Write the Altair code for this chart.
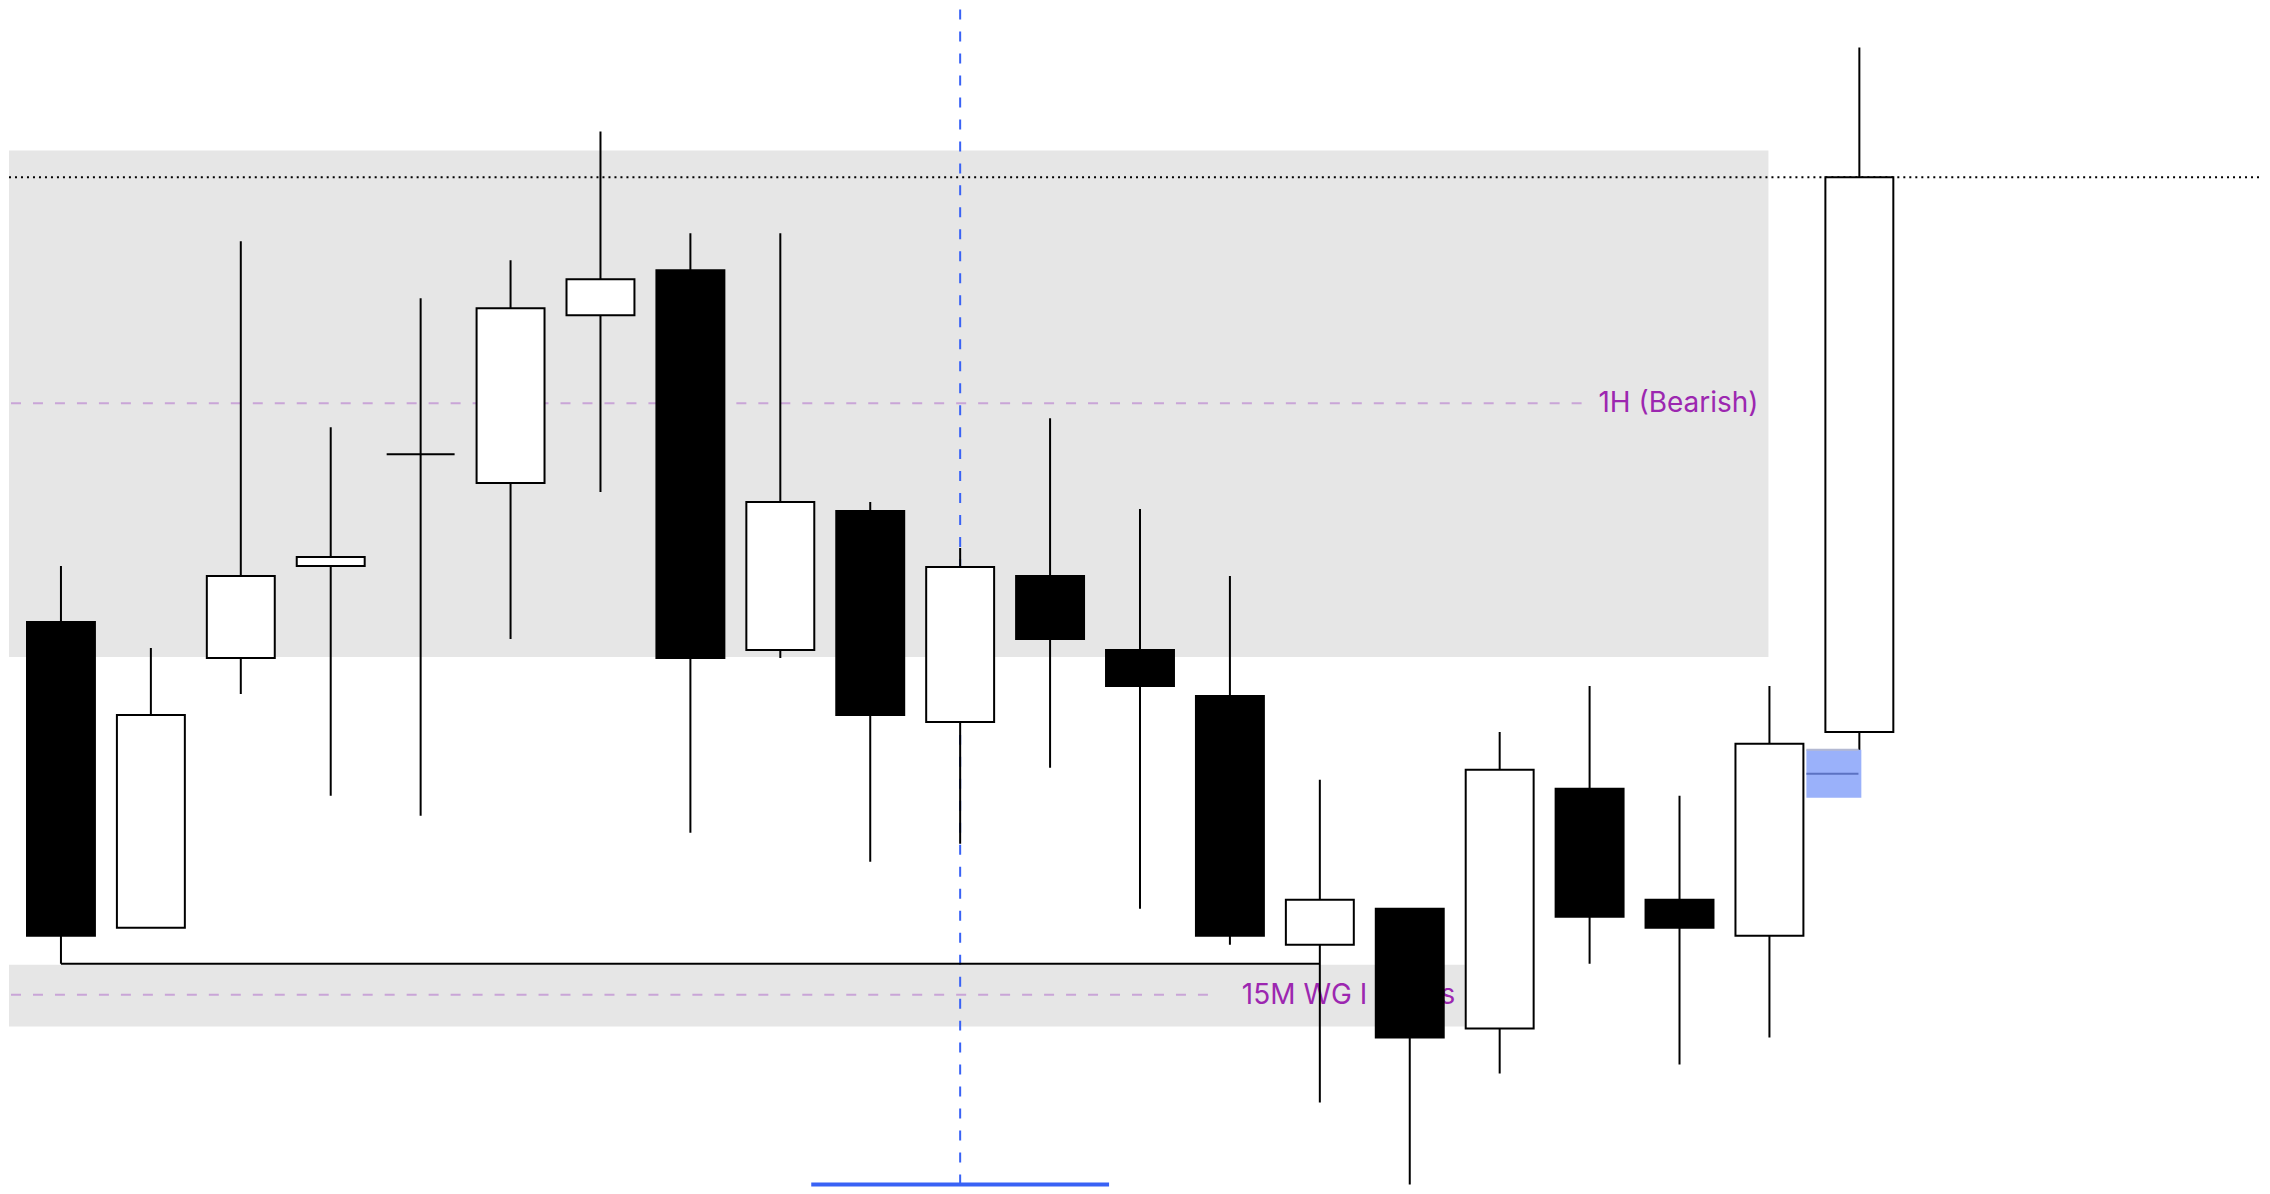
import altair as alt
import pandas as pd

# ---- candle data (arbitrary price units) ----
idx   = list(range(0, 22))
opens = [55.5, 57.3, 26.7, 53.7, 62.9, 74.1, 71.2, 88.0, 92.5, 54.5, 68.4, 47.3, 61.9, 54.5, 49.9, 25.0, 28.6, 16.6, 40.6, 29.5, 25.9, 46.3]
highs = [58.2, 62.9, 54.7, 95.4, 76.8, 89.7, 93.5, 106.4, 96.2, 96.2, 69.3, 64.7, 77.7, 68.6, 61.9, 41.5, 28.6, 46.3, 50.9, 39.9, 50.9, 114.8]
lows  = [55.5, 23.1, 26.7, 50.1, 39.9, 37.9, 55.6, 70.3, 36.2, 53.7, 33.3, 35.1, 42.7, 28.6, 25.0, 9.2, 1.0, 12.1, 23.1, 13.0, 15.7, 44.4]
closes= [58.2, 25.9, 48.0, 61.9, 63.8, 74.1, 88.7, 91.6, 53.7, 69.3, 48.0, 62.8, 55.6, 50.9, 25.9, 29.5, 15.7, 42.5, 27.8, 26.7, 45.1, 101.8]

# zones / drawings
zone_names  = ["1H", "15M"]
zone_x0     = [-2.0, -2.0]
zone_x1     = [19.989, 16.611]
zone_top    = [104.5, 23.0]
zone_bottom = [53.8, 16.8]
zone_mid    = [79.2, 20.0]
zone_dash_end = [17.922, 13.867]
zone_labels = ["1H (Bearish)", "15M WG I (Bullish)"]
zone_label_x = [19.878, 14.133]

X_DOMAIN = [0.4222, 25.4667]
Y_DOMAIN = [0.8, 118.6]
W, H = 2254, 1178

df = pd.DataFrame({"idx": idx, "open": opens, "high": highs, "low": lows, "close": closes})
df["dir"] = ["up" if c >= o else "down" for o, c in zip(opens, closes)]

xs = alt.Scale(domain=X_DOMAIN, nice=False, zero=False, padding=0)
ys = alt.Scale(domain=Y_DOMAIN, nice=False, zero=False, padding=0)

def X(f):
    return alt.X(f, type="quantitative", scale=xs, axis=None)

def Y(f):
    return alt.Y(f, type="quantitative", scale=ys, axis=None)

zones = pd.DataFrame({"x0": zone_x0, "x1": zone_x1, "top": zone_top, "bottom": zone_bottom})
zone_rect = alt.Chart(zones).mark_rect(color="#e6e6e6", clip=True).encode(
    x=X("x0"), x2="x1", y=Y("top"), y2="bottom")

dash_df = pd.DataFrame({"x0": zone_x0, "x1": zone_dash_end, "y": zone_mid})
dash_lines = alt.Chart(dash_df).mark_rule(color="#c9a5d7", strokeWidth=2, strokeDash=[10, 12], clip=True).encode(
    x=X("x0"), x2="x1", y=Y("y"))

lab1 = alt.Chart(pd.DataFrame({"x": [zone_label_x[0]], "y": [zone_mid[0]], "t": [zone_labels[0]]})).mark_text(
    align="right", baseline="middle", font="Inter", fontSize=28, color="#9c27b0", dy=1).encode(
    x=X("x"), y=Y("y"), text="t:N")
lab2 = alt.Chart(pd.DataFrame({"x": [zone_label_x[1]], "y": [zone_mid[1]], "t": [zone_labels[1]]})).mark_text(
    align="left", baseline="middle", font="Inter", fontSize=28, color="#9c27b0", dy=1,
    limit=223, ellipsis=" ").encode(
    x=X("x"), y=Y("y"), text="t:N")

# horizontal line from candle 1 low to candle 15
hline = alt.Chart(pd.DataFrame({"x0": [1], "x1": [15], "y": [lows[1]]})).mark_rule(
    color="black", strokeWidth=2).encode(x=X("x0"), x2="x1", y=Y("y"))

# last price dotted line
pline = alt.Chart(pd.DataFrame({"y": [closes[-1]]})).mark_rule(
    color="black", strokeWidth=2, strokeDash=[2, 4]).encode(
    y=Y("y"), x=alt.value(0), x2=alt.value(W))

wicks = alt.Chart(df).mark_rule(color="black", strokeWidth=2, clip=True).encode(
    x=X("idx"), y=Y("low"), y2="high")

bodies = alt.Chart(df).mark_bar(size=68, stroke="black", strokeWidth=2, clip=True).encode(
    x=X("idx"), y=Y("open"), y2="close",
    color=alt.Color("dir:N", scale=alt.Scale(domain=["up", "down"], range=["white", "black"]), legend=None))

# blue highlight box near last candle
hl = alt.Chart(pd.DataFrame({"x0": [20.411], "x1": [21.022], "y0": [44.5], "y1": [39.7]})).mark_rect(
    color="#9ab1fa").encode(x=X("x0"), x2="x1", y=Y("y0"), y2="y1")
hl_top = alt.Chart(pd.DataFrame({"x0": [20.411], "x1": [20.99], "y": [44.5]})).mark_rule(
    color="#b3b9d2", strokeWidth=2).encode(x=X("x0"), x2="x1", y=Y("y"))
hl_mid = alt.Chart(pd.DataFrame({"x0": [20.411], "x1": [20.99], "y": [42.1]})).mark_rule(
    color="#5b72c2", strokeWidth=2).encode(x=X("x0"), x2="x1", y=Y("y"))

# blue vertical dashed line and bottom bar
vline = alt.Chart(pd.DataFrame({"x": [11]})).mark_rule(
    color="#3962f5", strokeWidth=2, strokeDash=[10, 12]).encode(
    x=X("x"), y=alt.value(0), y2=alt.value(H))
bline = alt.Chart(pd.DataFrame({"x0": [9.344], "x1": [12.656], "y": [1.0]})).mark_rule(
    color="#3962f5", strokeWidth=4).encode(x=X("x0"), x2="x1", y=Y("y"))

chart = alt.layer(
    zone_rect, dash_lines, lab1, lab2, vline, bline, hline, pline, wicks, bodies, hl, hl_top, hl_mid
).properties(width=W, height=H, padding=0, background="white").configure_view(stroke=None)

chart.save("out.html", embed_options={"renderer": "svg", "actions": False})
